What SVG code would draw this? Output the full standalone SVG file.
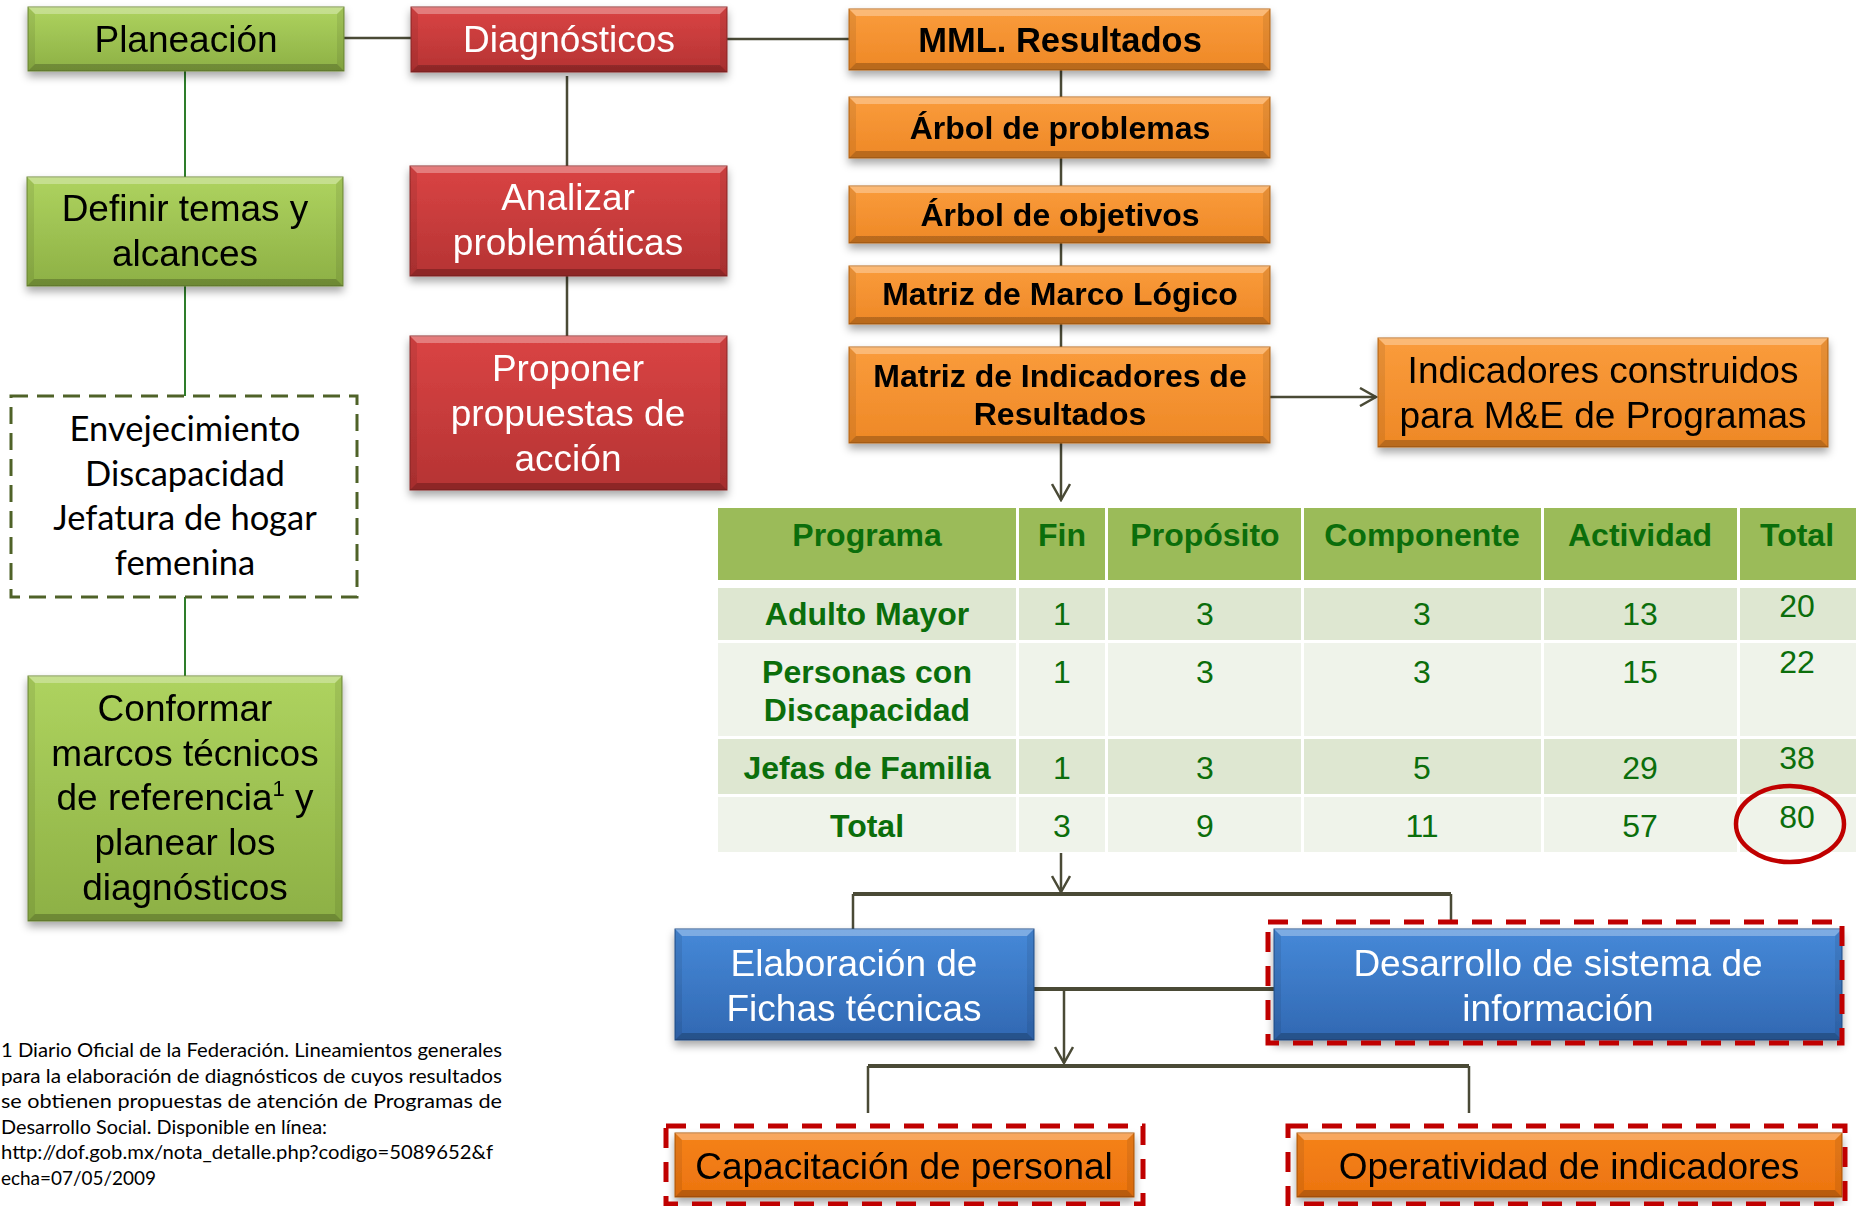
<svg xmlns="http://www.w3.org/2000/svg" width="1858" height="1206" viewBox="0 0 1858 1206">
<defs>
<linearGradient id="gG" x1="0" y1="0" x2="0" y2="1"><stop offset="0" stop-color="#AED35F"/><stop offset="1" stop-color="#8DB045"/></linearGradient>
<linearGradient id="gR" x1="0" y1="0" x2="0" y2="1"><stop offset="0" stop-color="#DA4444"/><stop offset="1" stop-color="#B53333"/></linearGradient>
<linearGradient id="gO" x1="0" y1="0" x2="0" y2="1"><stop offset="0" stop-color="#FA9C3C"/><stop offset="1" stop-color="#EE8826"/></linearGradient>
<linearGradient id="gO2" x1="0" y1="0" x2="0" y2="1"><stop offset="0" stop-color="#F5821A"/><stop offset="1" stop-color="#EC740F"/></linearGradient>
<linearGradient id="gB" x1="0" y1="0" x2="0" y2="1"><stop offset="0" stop-color="#4689D8"/><stop offset="1" stop-color="#3168B2"/></linearGradient>
<filter id="sh" x="-10%" y="-20%" width="120%" height="150%"><feDropShadow dx="0" dy="5" stdDeviation="4" flood-color="#000" flood-opacity="0.35"/></filter>
<marker id="ar" viewBox="0 0 20 20" refX="18" refY="10" markerWidth="20" markerHeight="20" markerUnits="userSpaceOnUse" orient="auto"><path d="M2 1L18 10L2 19" fill="none" stroke="#4A4A36" stroke-width="2.5"/></marker>
</defs>
<style>
.bt{fill:#fff;fill-opacity:.3}
.bb{fill:#000;fill-opacity:.22}
.bs{fill:#000;fill-opacity:.08}
.gn rect{fill:url(#gG);stroke:#6E8A37;stroke-width:1}
.rd rect{fill:url(#gR);stroke:#8E2828;stroke-width:1}
.or rect{fill:url(#gO);stroke:#B86616;stroke-width:1}
.or2 rect{fill:url(#gO2);stroke:#B0580C;stroke-width:1}
.bl rect{fill:url(#gB);stroke:#25508A;stroke-width:1}
text{font-family:"Liberation Sans",Arial,sans-serif;text-anchor:middle}
.t{font-size:37px;fill:#000}
.tw{font-size:37px;fill:#fff}
.tb{font-size:32px;font-weight:bold;fill:#000}
.c{fill:none;stroke:#4A4A36;stroke-width:2.5}
.cg{fill:none;stroke:#2E7D2A;stroke-width:2}
.ct{fill:none;stroke:#4A4A36;stroke-width:4}
.dr{fill:none;stroke:#C00000;stroke-width:5;stroke-dasharray:20 14}
.th{font-size:32px;font-weight:bold;fill:#0B6E0B}
.td{font-size:32px;fill:#0B6E0B}
.cal{font-family:Lato,"Liberation Sans",sans-serif;font-size:34.5px;fill:#000}
.fn{font-family:Lato,"Liberation Sans",sans-serif;font-size:19px;fill:#000;text-anchor:start}
</style>
<rect width="1858" height="1206" fill="#fff"/>

<g id="connectors">
<path class="c" d="M344 38H411"/>
<path class="c" d="M727 39H849"/>
<path class="cg" d="M185 71V177M185 286V396M185 597V676"/>
<path class="c" d="M567 76V166M567 276V336"/>
<path class="c" d="M1061 70V347"/>
<path class="c" d="M1270 397H1376" marker-end="url(#ar)"/>
<path class="c" d="M1061 443V500" marker-end="url(#ar)"/>
<path class="c" d="M1061 853V892" marker-end="url(#ar)"/>
<path class="ct" d="M853 894H1451"/>
<path class="c" d="M853 894V929M1451 894V922"/>
<path class="ct" d="M1034 989H1274"/>
<path class="c" d="M1064 989V1063" marker-end="url(#ar)"/>
<path class="ct" d="M868 1066H1469"/>
<path class="c" d="M868 1066V1113M1469 1066V1113"/>
</g>

<g id="planeacion" class="gn" filter="url(#sh)">
<rect x="28" y="7" width="316" height="64"/>
<path class="bt" d="M28 7h316l-7 7h-302z"/><path class="bb" d="M28 71h316l-7-7h-302z"/><path class="bs" d="M28 7l7 7v50l-7 7zM344 7l-7 7v50l7 7z"/>
<text class="t" x="186" y="52">Planeación</text>
</g>
<g id="diagnosticos" class="rd" filter="url(#sh)">
<rect x="411" y="7" width="316" height="65"/>
<path class="bt" d="M411 7h316l-7 7h-302z"/><path class="bb" d="M411 72h316l-7-7h-302z"/><path class="bs" d="M411 7l7 7v51l-7 7zM727 7l-7 7v51l7 7z"/>
<text class="tw" x="569" y="52">Diagnósticos</text>
</g>
<g id="definir" class="gn" filter="url(#sh)">
<rect x="27" y="177" width="316" height="109"/>
<path class="bt" d="M27 177h316l-7 7h-302z"/><path class="bb" d="M27 286h316l-7-7h-302z"/><path class="bs" d="M27 177l7 7v95l-7 7zM343 177l-7 7v95l7 7z"/>
<text class="t" x="185" y="221">Definir temas y</text>
<text class="t" x="185" y="266">alcances</text>
</g>
<g id="analizar" class="rd" filter="url(#sh)">
<rect x="410" y="166" width="317" height="110"/>
<path class="bt" d="M410 166h317l-7 7h-303z"/><path class="bb" d="M410 276h317l-7-7h-303z"/><path class="bs" d="M410 166l7 7v96l-7 7zM727 166l-7 7v96l7 7z"/>
<text class="tw" x="568" y="210">Analizar</text>
<text class="tw" x="568" y="255">problemáticas</text>
</g>
<g id="proponer" class="rd" filter="url(#sh)">
<rect x="410" y="336" width="317" height="154"/>
<path class="bt" d="M410 336h317l-7 7h-303z"/><path class="bb" d="M410 490h317l-7-7h-303z"/><path class="bs" d="M410 336l7 7v140l-7 7zM727 336l-7 7v140l7 7z"/>
<text class="tw" x="568" y="381">Proponer</text>
<text class="tw" x="568" y="426">propuestas de</text>
<text class="tw" x="568" y="471">acción</text>
</g>
<g id="temas">
<rect x="11" y="396" width="346" height="201" fill="#fff" stroke="#4F6228" stroke-width="3" stroke-dasharray="17 9"/>
<text class="cal" x="185" y="441">Envejecimiento</text>
<text class="cal" x="185" y="486">Discapacidad</text>
<text class="cal" x="185" y="530">Jefatura de hogar</text>
<text class="cal" x="185" y="575">femenina</text>
</g>
<g id="conformar" class="gn" filter="url(#sh)">
<rect x="28" y="676" width="314" height="245"/>
<path class="bt" d="M28 676h314l-7 7h-300z"/><path class="bb" d="M28 921h314l-7-7h-300z"/><path class="bs" d="M28 676l7 7v231l-7 7zM342 676l-7 7v231l7 7z"/>
<text class="t" x="185" y="721">Conformar</text>
<text class="t" x="185" y="766">marcos técnicos</text>
<text class="t" x="185" y="810">de referencia<tspan font-size="22" dy="-14">1</tspan><tspan dy="14"> y</tspan></text>
<text class="t" x="185" y="855">planear los</text>
<text class="t" x="185" y="900">diagnósticos</text>
</g>
<g id="mml" class="or" filter="url(#sh)">
<rect x="849" y="9" width="421" height="61"/>
<path class="bt" d="M849 9h421l-7 7h-407z"/><path class="bb" d="M849 70h421l-7-7h-407z"/><path class="bs" d="M849 9l7 7v47l-7 7zM1270 9l-7 7v47l7 7z"/>
<text class="tb" x="1060" y="52" style="font-size:34.5px">MML. Resultados</text>
</g>
<g id="arbol-problemas" class="or" filter="url(#sh)">
<rect x="849" y="97" width="421" height="61"/>
<path class="bt" d="M849 97h421l-7 7h-407z"/><path class="bb" d="M849 158h421l-7-7h-407z"/><path class="bs" d="M849 97l7 7v47l-7 7zM1270 97l-7 7v47l7 7z"/>
<text class="tb" x="1060" y="139">Árbol de problemas</text>
</g>
<g id="arbol-objetivos" class="or" filter="url(#sh)">
<rect x="849" y="186" width="421" height="57"/>
<path class="bt" d="M849 186h421l-7 7h-407z"/><path class="bb" d="M849 243h421l-7-7h-407z"/><path class="bs" d="M849 186l7 7v43l-7 7zM1270 186l-7 7v43l7 7z"/>
<text class="tb" x="1060" y="226">Árbol de objetivos</text>
</g>
<g id="marco-logico" class="or" filter="url(#sh)">
<rect x="849" y="266" width="421" height="58"/>
<path class="bt" d="M849 266h421l-7 7h-407z"/><path class="bb" d="M849 324h421l-7-7h-407z"/><path class="bs" d="M849 266l7 7v44l-7 7zM1270 266l-7 7v44l7 7z"/>
<text class="tb" x="1060" y="305">Matriz de Marco Lógico</text>
</g>
<g id="mir" class="or" filter="url(#sh)">
<rect x="849" y="347" width="421" height="96"/>
<path class="bt" d="M849 347h421l-7 7h-407z"/><path class="bb" d="M849 443h421l-7-7h-407z"/><path class="bs" d="M849 347l7 7v82l-7 7zM1270 347l-7 7v82l7 7z"/>
<text class="tb" x="1060" y="387">Matriz de Indicadores de</text>
<text class="tb" x="1060" y="425">Resultados</text>
</g>
<g id="indicadores" class="or" filter="url(#sh)">
<rect x="1378" y="338" width="450" height="109"/>
<path class="bt" d="M1378 338h450l-7 7h-436z"/><path class="bb" d="M1378 447h450l-7-7h-436z"/><path class="bs" d="M1378 338l7 7v95l-7 7zM1828 338l-7 7v95l7 7z"/>
<text class="t" x="1603" y="383">Indicadores construidos</text>
<text class="t" x="1603" y="428">para M&amp;E de Programas</text>
</g>

<g id="tabla">
<rect x="718" y="508" width="1138" height="72" fill="#9BBB59"/>
<rect x="718" y="588" width="1138" height="52" fill="#DEE7D1"/>
<rect x="718" y="643" width="1138" height="93" fill="#EFF3EA"/>
<rect x="718" y="739" width="1138" height="55" fill="#DEE7D1"/>
<rect x="718" y="797" width="1138" height="55" fill="#EFF3EA"/>
<path d="M1017.5 508V852M1106.5 508V852M1302.5 508V852M1542.5 508V852M1738.5 508V852" stroke="#fff" stroke-width="3"/>
<text class="th" x="867" y="546">Programa</text>
<text class="th" x="1062" y="546">Fin</text>
<text class="th" x="1205" y="546">Propósito</text>
<text class="th" x="1422" y="546">Componente</text>
<text class="th" x="1640" y="546">Actividad</text>
<text class="th" x="1797" y="546">Total</text>
<text class="th" x="867" y="625">Adulto Mayor</text>
<text class="td" x="1062" y="625">1</text>
<text class="td" x="1205" y="625">3</text>
<text class="td" x="1422" y="625">3</text>
<text class="td" x="1640" y="625">13</text>
<text class="td" x="1797" y="617">20</text>
<text class="th" x="867" y="683">Personas con</text>
<text class="th" x="867" y="721">Discapacidad</text>
<text class="td" x="1062" y="683">1</text>
<text class="td" x="1205" y="683">3</text>
<text class="td" x="1422" y="683">3</text>
<text class="td" x="1640" y="683">15</text>
<text class="td" x="1797" y="673">22</text>
<text class="th" x="867" y="779">Jefas de Familia</text>
<text class="td" x="1062" y="779">1</text>
<text class="td" x="1205" y="779">3</text>
<text class="td" x="1422" y="779">5</text>
<text class="td" x="1640" y="779">29</text>
<text class="td" x="1797" y="769">38</text>
<text class="th" x="867" y="837">Total</text>
<text class="td" x="1062" y="837">3</text>
<text class="td" x="1205" y="837">9</text>
<text class="td" x="1422" y="837">11</text>
<text class="td" x="1640" y="837">57</text>
<text class="td" x="1797" y="828">80</text>
<ellipse cx="1790" cy="824" rx="54" ry="38" fill="none" stroke="#C00000" stroke-width="4.5"/>
</g>

<g id="elaboracion" class="bl" filter="url(#sh)">
<rect x="675" y="929" width="359" height="111"/>
<path class="bt" d="M675 929h359l-7 7h-345z"/><path class="bb" d="M675 1040h359l-7-7h-345z"/><path class="bs" d="M675 929l7 7v97l-7 7zM1034 929l-7 7v97l7 7z"/>
<text class="tw" x="854" y="976">Elaboración de</text>
<text class="tw" x="854" y="1021">Fichas técnicas</text>
</g>
<g id="desarrollo">
<g class="bl" filter="url(#sh)">
<rect x="1274" y="929" width="568" height="111"/>
<path class="bt" d="M1274 929h568l-7 7h-554z"/><path class="bb" d="M1274 1040h568l-7-7h-554z"/><path class="bs" d="M1274 929l7 7v97l-7 7zM1842 929l-7 7v97l7 7z"/>
<text class="tw" x="1558" y="976">Desarrollo de sistema de</text>
<text class="tw" x="1558" y="1021">información</text>
</g>
<rect class="dr" x="1268" y="922" width="574" height="121"/>
</g>
<g id="capacitacion">
<g class="or2" filter="url(#sh)">
<rect x="675" y="1133" width="459" height="64"/>
<path class="bt" d="M675 1133h459l-7 7h-445z"/><path class="bb" d="M675 1197h459l-7-7h-445z"/><path class="bs" d="M675 1133l7 7v50l-7 7zM1134 1133l-7 7v50l7 7z"/>
<text class="t" x="904" y="1179">Capacitación de personal</text>
</g>
<rect class="dr" x="666" y="1126" width="477" height="78"/>
</g>
<g id="operatividad">
<g class="or2" filter="url(#sh)">
<rect x="1297" y="1133" width="545" height="64"/>
<path class="bt" d="M1297 1133h545l-7 7h-531z"/><path class="bb" d="M1297 1197h545l-7-7h-531z"/><path class="bs" d="M1297 1133l7 7v50l-7 7zM1842 1133l-7 7v50l7 7z"/>
<text class="t" x="1569" y="1179">Operatividad de indicadores</text>
</g>
<rect class="dr" x="1288" y="1126" width="557" height="78"/>
</g>

<g id="nota">
<text class="fn" x="1" y="1057" textLength="501" lengthAdjust="spacingAndGlyphs">1 Diario Oficial de la Federación. Lineamientos generales</text>
<text class="fn" x="1" y="1083" textLength="501" lengthAdjust="spacingAndGlyphs">para la elaboración de diagnósticos de cuyos resultados</text>
<text class="fn" x="1" y="1108" textLength="501" lengthAdjust="spacingAndGlyphs">se obtienen propuestas de atención de Programas de</text>
<text class="fn" x="1" y="1134" textLength="326" lengthAdjust="spacingAndGlyphs">Desarrollo Social. Disponible en línea:</text>
<text class="fn" x="1" y="1159" textLength="492" lengthAdjust="spacingAndGlyphs">http://dof.gob.mx/nota_detalle.php?codigo=5089652&amp;f</text>
<text class="fn" x="1" y="1185" textLength="155" lengthAdjust="spacingAndGlyphs">echa=07/05/2009</text>
</g>
</svg>
